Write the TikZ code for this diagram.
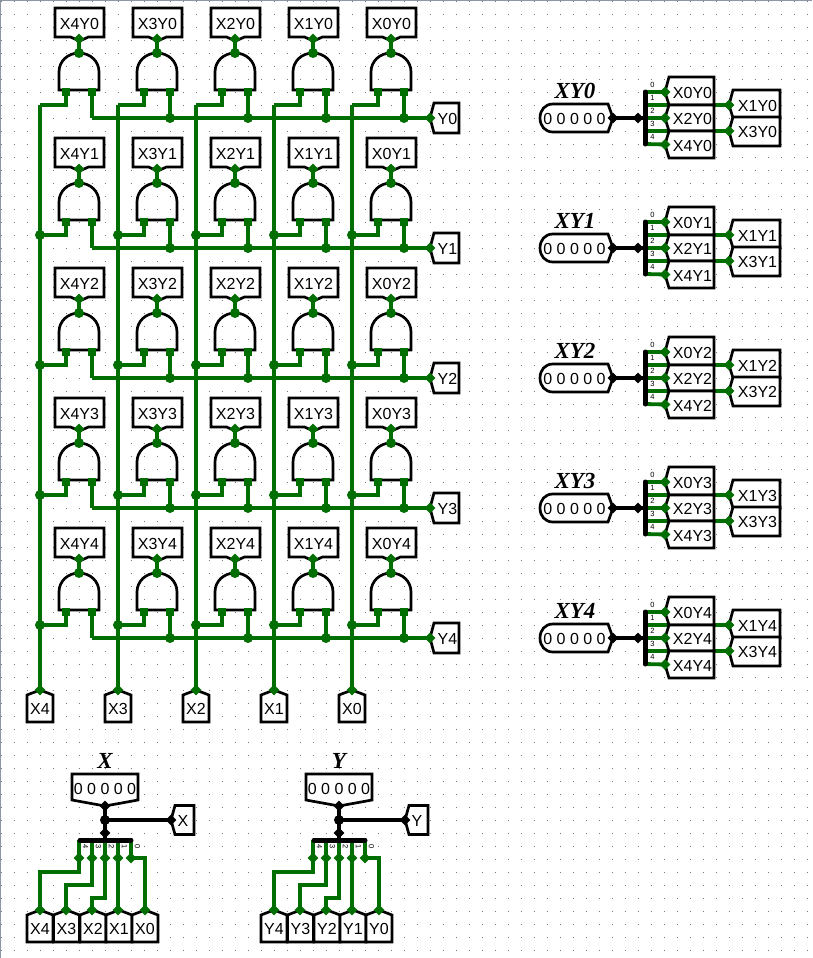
\documentclass[tikz,border=0pt]{standalone}
\usepackage{fontspec}
\setmainfont{Liberation Sans}
\newfontfamily\titlefont[BoldItalicFont={Liberation Serif Bold Italic}]{Liberation Serif}
\usetikzlibrary{shapes.geometric}
\definecolor{wiregreen}{RGB}{0,110,0}
\definecolor{griddot}{RGB}{120,120,120}
\definecolor{edgeblue}{RGB}{140,150,165}
\pgfdeclarelayer{bg}
\pgfsetlayers{bg,main}
\tikzset{
  wire/.style={draw=wiregreen,line width=3.8pt,line join=miter},
  bus/.style={draw=black,line width=3.8pt},
  junc/.style={circle,fill=wiregreen,minimum size=10pt,inner sep=0pt},
  bjunc/.style={circle,fill=black,minimum size=10pt,inner sep=0pt},
  gdia/.style={diamond,fill=wiregreen,minimum width=11pt,minimum height=11pt,inner sep=0pt},
  bdia/.style={diamond,fill=black,minimum width=11pt,minimum height=11pt,inner sep=0pt},
  insq/.style={rectangle,fill=wiregreen,minimum size=8pt,inner sep=0pt},
  pinbox/.style={draw=black,fill=white,line width=2.7pt,line join=miter},
  gatebody/.style={draw=black,line width=2.7pt},
  splitbar/.style={draw=black,line width=5pt,line cap=round},
  pintext/.style={font=\fontsize{16}{16}\selectfont,inner sep=0pt,text=black},
  titletext/.style={font=\titlefont\bfseries\itshape\fontsize{23}{23}\selectfont,inner sep=0pt},
  tinytext/.style={font=\fontsize{7.5}{8}\selectfont,inner sep=0pt},
}
\newcommand{\pinDown}[4]{%
  \draw[pinbox] ({#3-24.5},#4)--({#3+24.5},#4)--({#3+24.5},{#4+29})--({#3+9},{#4+29})--(#3,{#4+33})--({#3-9},{#4+29})--({#3-24.5},{#4+29})--cycle;
  \node[pintext] (#1) at (#3,{#4+16}) {#2};
}
\newcommand{\pinUp}[4]{%
  \draw[pinbox] ({#3-13},{#4+5})--(#3,#4)--({#3+13},{#4+5})--({#3+13},{#4+32})--({#3-13},{#4+32})--cycle;
  \node[pintext] (#1) at (#3,{#4+19}) {#2};
}
\newcommand{\pinLeft}[7]{%
  \draw[pinbox] (#3,#4)--({#3+4},{#4-#5})--({#3+#7},{#4-#5})--({#3+#7},{#4+#6})--({#3+4},{#4+#6})--cycle;
  \node[pintext] (#1) at ({#3+4+#7/2-1},{#4+1}) {#2};
}
\begin{document}
\begin{tikzpicture}[x=1pt,y=-1pt]
\useasboundingbox (0,0) rectangle (812,958);
\begin{pgfonlayer}{bg}
  \fill[white] (0,0) rectangle (812,958);
  \foreach \k in {0,...,73}
    \draw[griddot,line width=1pt,dash pattern=on 1pt off 12pt] (0.5,{1.5+13*\k})--(812,{1.5+13*\k});
  \draw[edgeblue,line width=2pt] (0,958)--(0,0)--(812,0);
\end{pgfonlayer}

% ---- X bottom column pins
\foreach \cl in {0,...,4}{
  \pgfmathsetmacro{\cx}{40+(4-\cl)*78}
  \pinUp{Xin\cl}{X\cl}{\cx}{690}
  \node[gdia] (Xtip\cl) at (\cx,690) {};
}

% ---- AND array
\foreach \rw in {0,...,4}{
  \pgfmathsetmacro{\wy}{118+130*\rw}
  \pinLeft{Yname\rw}{Y\rw}{430}{\wy}{15}{15}{29}
  \node[gdia] (Ytip\rw) at (430,\wy) {};
  \foreach \cl in {0,...,4}{
    \begin{scope}[shift={({(4-\cl)*78},{130*\rw})}]
      \pinDown{Lab\cl\rw}{X\cl{}Y\rw}{79.5}{8}
      \draw[gatebody] (59,90)--(59,72) .. controls (59,61) and (68,53) .. (79,53) .. controls (90,53) and (99,61) .. (99,72) --(99,90)--cycle;
      \node[junc] (Out\cl\rw) at (79,53) {};
      \node[gdia] (Tip\cl\rw) at (79,39) {};
      \node[insq] (Ia\cl\rw) at (66,92) {};
      \node[insq] (Ib\cl\rw) at (92,92) {};
      \ifnum\rw=0
        \coordinate (Vx\cl\rw) at (40,105);
      \else
        \node[junc] (Vx\cl\rw) at (40,105) {};
      \fi
      \ifnum\cl=4
        \coordinate (Hy\cl\rw) at (92,118);
      \else
        \node[junc] (Hy\cl\rw) at (92,118) {};
      \fi
    \end{scope}
    \begin{pgfonlayer}{bg}
      \draw[wire] (Tip\cl\rw.center)--(Out\cl\rw.center);
      \draw[wire] (Ia\cl\rw.center)|-(Vx\cl\rw.center);
      \draw[wire] (Ib\cl\rw.center)--(Hy\cl\rw.center);
    \end{pgfonlayer}
  }
  \begin{pgfonlayer}{bg}
    \draw[wire] (Hy4\rw.center)--(Ytip\rw.center);
  \end{pgfonlayer}
}
\begin{pgfonlayer}{bg}
  \foreach \cl in {0,...,4}
    \draw[wire] (Vx\cl0.center)--(Xtip\cl.center);
\end{pgfonlayer}

% ---- XY probes on the right
\foreach \rw in {0,...,4}{
  \begin{scope}[shift={(0,{130*\rw})}]
    \draw[pinbox] (553,104) .. controls (545,104) and (540,110) .. (540,118) .. controls (540,126) and (545,132) .. (553,132) -- (608,132)--(613,118)--(608,104)--cycle;
    \node[pintext] (Val\rw) at (574.5,119) {0 0 0 0 0};
    \node[titletext] (Tit\rw) at (575,90.5) {XY\rw};
    \node[bdia] (SrcD\rw) at (613,118) {};
    \node[bdia] (SplD\rw) at (638,118) {};
    \coordinate (BarT\rw) at (645,92);
    \coordinate (BarB\rw) at (645,144);
    \coordinate (BarM\rw) at (645,118);
    \coordinate (B0\rw) at (645,92);
    \coordinate (B1\rw) at (645,105);
    \coordinate (B2\rw) at (645,118);
    \coordinate (B3\rw) at (645,131);
    \coordinate (B4\rw) at (645,144);
    \pinLeft{Pa\rw}{X0Y\rw}{665}{92}{15}{13}{49}
    \pinLeft{Pc\rw}{X2Y\rw}{665}{118}{13}{13}{49}
    \pinLeft{Pe\rw}{X4Y\rw}{665}{144.5}{13.5}{13.5}{49}
    \pinLeft{Pb\rw}{X1Y\rw}{729}{105}{15}{13}{51}
    \pinLeft{Pd\rw}{X3Y\rw}{729}{131}{14}{15}{51}
    \node[gdia] (Da\rw) at (665,92) {};
    \node[gdia] (Dc\rw) at (665,118) {};
    \node[gdia] (De\rw) at (665,144.5) {};
    \node[gdia] (Db\rw) at (729,105) {};
    \node[gdia] (Dd\rw) at (729,131) {};
    \foreach \n/\yy in {0/84.5,1/97.5,2/110.5,3/123.5,4/136.5}
      \node[tinytext] (Sl\n\rw) at (652.5,\yy) {\n};
    \draw[bus] (SrcD\rw.center)--(BarM\rw);
    \draw[splitbar] (BarT\rw)--(BarB\rw);
  \end{scope}
  \begin{pgfonlayer}{bg}
    \draw[wire] (B0\rw)--(Da\rw.center);
    \draw[wire] (B1\rw)--(Db\rw.center);
    \draw[wire] (B2\rw)--(Dc\rw.center);
    \draw[wire] (B3\rw)--(Dd\rw.center);
    \draw[wire] (B4\rw)--(De\rw.center);
  \end{pgfonlayer}
}

% ---- input buses at the bottom
\foreach \L/\dx in {X/0,Y/234}{
  \begin{scope}[shift={(\dx,0)}]
    \node[titletext] (Tit\L) at (105,760.5) {\L};
    \draw[pinbox] (72,774)--(138,774)--(138,800)--(105,806)--(72,800)--cycle;
    \node[pintext] (Val\L) at (105,788.5) {0 0 0 0 0};
    \node[bdia] (ValTip\L) at (105,806) {};
    \node[bjunc] (Jn\L) at (105,820) {};
    \node[bdia] (SplD\L) at (105,833) {};
    \coordinate (Bar\L) at (105,840);
    \coordinate (BarA\L) at (80,840);
    \coordinate (BarZ\L) at (131,840);
    \draw[pinbox] (171,820)--(175,805.5)--(194,805.5)--(194,834.5)--(175,834.5)--cycle;
    \node[pintext] (Out\L) at (183,821) {\L};
    \node[bdia] (OutD\L) at (171,820) {};
    \draw[bus] (ValTip\L.center)--(Bar\L);
    \draw[bus] (Jn\L.center)--(OutD\L.center);
    \draw[splitbar] (BarA\L)--(BarZ\L);
    \foreach \n/\xx in {4/79,3/92,2/105,1/118,0/131}{
      \pgfmathsetmacro{\lx}{\xx+6.5}
      \coordinate (St\L\n) at (\xx,840);
      \node[gdia] (Sd\L\n) at (\xx,858) {};
      \node[tinytext,rotate=-90] (Sn\L\n) at (\lx,847) {\n};
    }
    \pinUp{Bt\L4}{\L4}{40}{910}
    \pinUp{Bt\L3}{\L3}{66.5}{910}
    \pinUp{Bt\L2}{\L2}{93}{910}
    \pinUp{Bt\L1}{\L1}{119}{910}
    \pinUp{Bt\L0}{\L0}{145}{910}
    \node[gdia] (Bd\L4) at (40,910) {};
    \node[gdia] (Bd\L3) at (66,910) {};
    \node[gdia] (Bd\L2) at (92,910) {};
    \node[gdia] (Bd\L1) at (118,910) {};
    \node[gdia] (Bd\L0) at (145,910) {};
    \coordinate (Kn\L4) at (79,872);
    \coordinate (Kn\L3) at (92,885);
    \coordinate (Kn\L2) at (105,898);
  \end{scope}
  \begin{pgfonlayer}{bg}
    \foreach \n in {0,...,4}
      \draw[wire] (St\L\n)--(Sd\L\n.center);
    \draw[wire] (Sd\L4.center)--(Kn\L4)-|(Bd\L4.center);
    \draw[wire] (Sd\L3.center)--(Kn\L3)-|(Bd\L3.center);
    \draw[wire] (Sd\L2.center)--(Kn\L2)-|(Bd\L2.center);
    \draw[wire] (Sd\L1.center)--(Bd\L1.center);
    \draw[wire] (Sd\L0.center)-|(Bd\L0.center);
  \end{pgfonlayer}
}
\end{tikzpicture}
\end{document}
